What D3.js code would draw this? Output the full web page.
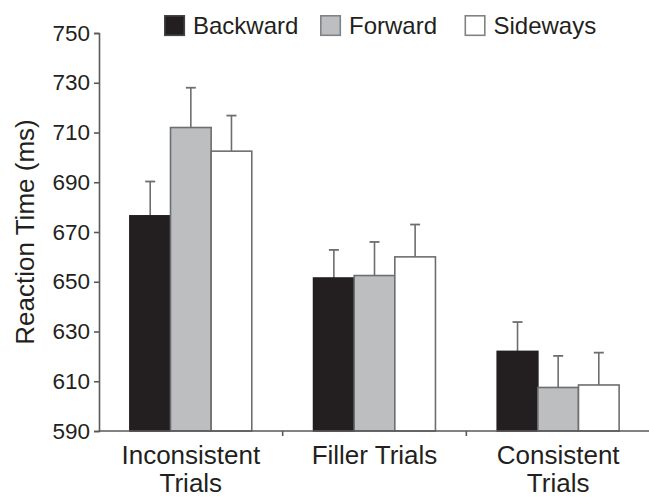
<!DOCTYPE html>
<html>
<head>
<meta charset="utf-8">
<script src="https://cdn.jsdelivr.net/npm/d3@7/dist/d3.min.js"></script>
<style>
  html, body { margin: 0; padding: 0; background: #fff; }
  svg { display: block; }
  text { font-family: "Liberation Sans", Arial, Helvetica, sans-serif; fill: #231f20; }
</style>
</head>
<body>
<svg id="chart" width="649" height="498"></svg>
<script>
const categories = [["Inconsistent", "Trials"], ["Filler Trials"], ["Consistent", "Trials"]];
const categoryKeys = ["Inconsistent Trials", "Filler Trials", "Consistent Trials"];
const seriesNames = ["Backward", "Forward", "Sideways"];
const backward = [676.5, 651.5, 622];
const forward = [712, 652.5, 607.5];
const sideways = [702.5, 660, 608.5];
const backwardErr = [13.8, 11.3, 11.8];
const forwardErr = [16, 13.5, 12.7];
const sidewaysErr = [14.3, 13, 13];
const yTicks = [590, 610, 630, 650, 670, 690, 710, 730, 750];

const seriesValues = [backward, forward, sideways];
const seriesErrs = [backwardErr, forwardErr, sidewaysErr];
const fills = ["#231f20", "#bcbec0", "#ffffff"];
const strokes = ["#231f20", "#6d6e70", "#6d6e70"];

const svg = d3.select("#chart");
const x0 = 99, x1 = 650, yTop = 33, yBot = 431;

const y = d3.scaleLinear().domain([590, 750]).range([yBot, yTop]);
const xBand = d3.scaleBand().domain(categoryKeys).range([x0, x1]).paddingInner(0).paddingOuter(0);
const xSub = d3.scaleBand().domain(seriesNames).range([0, xBand.bandwidth()])
  .paddingInner(0).paddingOuter(0.76);

// Bars and error bars
seriesNames.forEach((s, si) => {
  const g = svg.append("g");
  categoryKeys.forEach((c, ci) => {
    const v = seriesValues[si][ci];
    const e = seriesErrs[si][ci];
    const bx = xBand(c) + xSub(s);
    const bw = xSub.bandwidth();
    const cx = bx + bw / 2;
    g.append("line")
      .attr("x1", cx).attr("x2", cx)
      .attr("y1", y(v)).attr("y2", y(v + e))
      .attr("stroke", "#6d6e70").attr("stroke-width", 1.6);
    g.append("line")
      .attr("x1", cx - 5).attr("x2", cx + 5)
      .attr("y1", y(v + e)).attr("y2", y(v + e))
      .attr("stroke", "#6d6e70").attr("stroke-width", 1.8);
    g.append("rect")
      .attr("x", bx).attr("y", y(v))
      .attr("width", bw).attr("height", y(590) - y(v))
      .attr("fill", fills[si])
      .attr("stroke", strokes[si]).attr("stroke-width", 1.6);
  });
});

// Y axis
const yAxis = d3.axisLeft(y).tickValues(yTicks).tickSize(5).tickSizeOuter(5).tickPadding(4);
const ya = svg.append("g").attr("transform", `translate(${x0},0)`).call(yAxis);
ya.select(".domain").attr("stroke", "#58595b").attr("stroke-width", 1.6);
ya.selectAll(".tick line").attr("stroke", "#58595b").attr("stroke-width", 1.6);
ya.selectAll(".tick text").style("font-size", "22.5px").attr("fill", "#231f20")
  .style("font-family", "'Liberation Sans', Arial, sans-serif");

// X axis
const xa = svg.append("g");
xa.append("line").attr("x1", x0).attr("x2", x1).attr("y1", yBot).attr("y2", yBot)
  .attr("stroke", "#58595b").attr("stroke-width", 1.6);
categoryKeys.forEach((c) => {
  const tx = xBand(c) + xBand.bandwidth();
  xa.append("line").attr("x1", tx).attr("x2", tx).attr("y1", yBot).attr("y2", yBot + 5)
    .attr("stroke", "#58595b").attr("stroke-width", 1.6);
});
categoryKeys.forEach((c, ci) => {
  const cx = xBand(c) + xBand.bandwidth() / 2;
  const t = xa.append("text").attr("text-anchor", "middle").style("font-size", "26px");
  categories[ci].forEach((line, li) => {
    t.append("tspan").attr("x", cx).attr("y", 463.5 + li * 28.5).text(line);
  });
});

// Y label
svg.append("text")
  .attr("transform", `translate(33.5,232) rotate(-90)`)
  .attr("text-anchor", "middle")
  .style("font-size", "26px")
  .text("Reaction Time (ms)");

// Legend
const legendX = [164, 320, 464.5];
const lg = svg.append("g");
seriesNames.forEach((s, si) => {
  lg.append("rect").attr("x", legendX[si] + 0.8).attr("y", 15.8)
    .attr("width", 19.5).attr("height", 19.5)
    .attr("fill", fills[si]).attr("stroke", si === 0 ? "#444" : "#808285").attr("stroke-width", 1.6);
  lg.append("text").attr("x", legendX[si] + 29).attr("y", 34.3)
    .style("font-size", "24px").text(s);
});
</script>
</body>
</html>
